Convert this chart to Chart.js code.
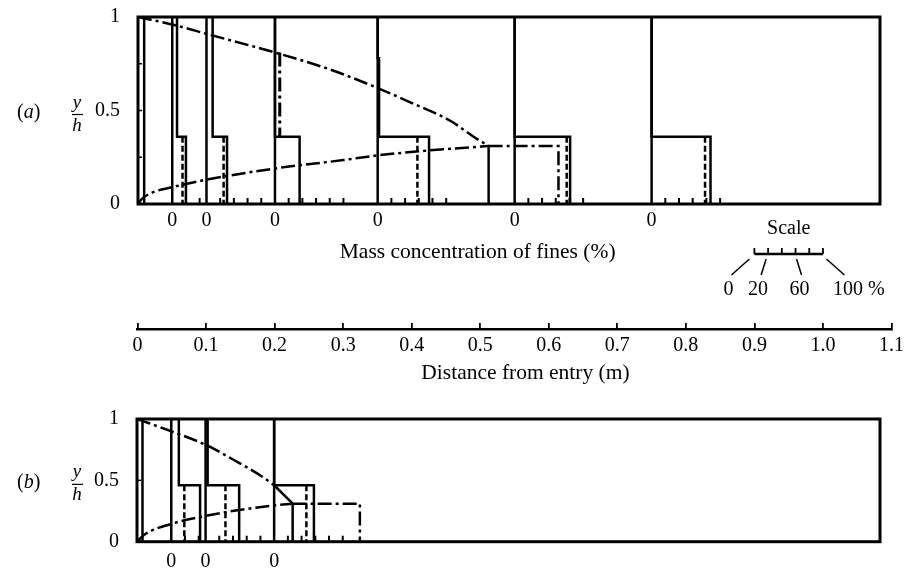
<!DOCTYPE html>
<html>
<head>
<meta charset="utf-8">
<script src="https://cdn.jsdelivr.net/npm/chart.js@4.4.0/dist/chart.umd.min.js"></script>
<style>
    html, body { margin: 0; padding: 0; background: #fff; }
    body { width: 904px; height: 571px; position: relative; overflow: hidden; }
    canvas { position: absolute; left: 0; }
    #chartA { top: 0; }
    #axisD { top: 215px; }
    #chartB { top: 390px; }
</style>
</head>
<body>
<canvas id="chartA" width="904" height="270"></canvas>
<canvas id="axisD" width="904" height="175"></canvas>
<canvas id="chartB" width="904" height="181"></canvas>
<script>
const FONT = '"Liberation Serif", "Times New Roman", serif';

// Distance axis (m)
const distTicks = [0, 0.1, 0.2, 0.3, 0.4, 0.5, 0.6, 0.7, 0.8, 0.9, 1.0, 1.1];
const distMax = 1.1;
const panelMax = 1.0835;        // right edge of the two panels
const pctToM = 0.1 / 100;       // scale bar: 100 % spans 0.1 m

// y/h ticks
const yTicks = [0, 0.5, 1];

// Scale bar
const scaleStart = 0.9;
const scaleTicks = [0, 20, 40, 60, 80, 100];
const scaleLabels = [0, 20, 60, 100];

// Panel (a)
const stationsA = [0, 0.05, 0.1, 0.2, 0.35, 0.55, 0.75];
const upperA = [9, 7, 9, 0, 2, 0, 0];           // measured, upper layer (%)
const upperTopA = [1, 1, 1, 1, 0.78, 1, 1];
const lowerA = [9, 20, 30, 36, 75, 81, 86];     // measured, lower layer (%)
const dashedA = [null, 15, 25, null, 58, 76, 78];
const dashUpperA = [null, null, null, 7, null, null, null];
const dashUpperTopA = [null, null, null, 0.81, null, null, null];
const layerA = 0.36;
const topCurveAx = [0, 0.05, 0.1, 0.2, 0.28, 0.35, 0.4, 0.456, 0.49, 0.512];
const topCurveAy = [1, 0.96, 0.91, 0.81, 0.72, 0.62, 0.54, 0.445, 0.36, 0.31];
const lowCurveAx = [0, 0.005, 0.02, 0.05, 0.1, 0.2, 0.3, 0.35, 0.42, 0.456, 0.512];
const lowCurveAy = [0, 0.025, 0.06, 0.09, 0.13, 0.19, 0.235, 0.26, 0.285, 0.295, 0.31];
const tailAx = [0.512, 0.614];
const tailAy = 0.31;

// Panel (b)
const stationsB = [0, 0.05, 0.1, 0.2];
const upperB = [8, 11, 3, 0];
const upperTopB = [1, 1, 1, 1];
const lowerB = [8, 42, 49, 58];
const dashedB = [null, 19, 29, 47];
const dashUpperB = [null, null, null, null];
const dashUpperTopB = [null, null, null, null];
const layerB = 0.46;
const topCurveBx = [0, 0.05, 0.1, 0.14, 0.18, 0.2];
const topCurveBy = [1, 0.9, 0.79, 0.67, 0.54, 0.46];
const linkBx = [0.2, 0.227];
const linkBy = [0.46, 0.31];
const lowCurveBx = [0, 0.01, 0.05, 0.1, 0.139, 0.2, 0.227];
const lowCurveBy = [0, 0.055, 0.145, 0.21, 0.25, 0.295, 0.31];
const tailBx = [0.227, 0.325];
const tailBy = 0.31;

const DASH = [6, 3];
const DASHDOT = [14, 4, 3, 4];

function line(points, opts) {
    return Object.assign({
        data: points, showLine: true, pointRadius: 0, borderColor: '#000',
        borderWidth: 2.5, tension: 0, fill: false
    }, opts || {});
}

function xy(xs, ys) {
    return xs.map((x, k) => ({ x: x, y: ys[k] }));
}

function panelDatasets(p) {
    const ds = [];
    p.stations.forEach((s, i) => {
        const u = s + p.upper[i] * pctToM;
        const l = s + p.lower[i] * pctToM;
        if (s > 0) ds.push(line([{ x: s, y: 0 }, { x: s, y: 1 }]));
        const path = [];
        if (p.upperTop[i] < 1) {
            path.push({ x: s, y: 1 }, { x: s, y: p.upperTop[i] }, { x: u, y: p.upperTop[i] });
        } else {
            path.push({ x: u, y: 1 });
        }
        path.push({ x: u, y: p.layer }, { x: l, y: p.layer }, { x: l, y: 0 });
        ds.push(line(path));
        if (p.dashed[i] != null) {
            const d = s + p.dashed[i] * pctToM;
            ds.push(line([{ x: d, y: p.layer }, { x: d, y: 0 }], { borderDash: DASH }));
        }
        if (p.dashUpper[i] != null) {
            const d = s + p.dashUpper[i] * pctToM;
            ds.push(line([{ x: d, y: p.dashUpperTop[i] }, { x: d, y: p.layer }], { borderDash: DASHDOT, borderWidth: 3 }));
        }
    });
    ds.push(line(xy(p.topX, p.topY), { borderDash: DASHDOT, cubicInterpolationMode: 'monotone' }));
    ds.push(line(xy(p.lowX, p.lowY), { borderDash: DASHDOT, cubicInterpolationMode: 'monotone' }));
    if (p.linkX) ds.push(line(xy(p.linkX, p.linkY)));
    ds.push(line([{ x: p.tailX[0], y: 0 }, { x: p.tailX[0], y: p.tailY }]));
    ds.push(line([{ x: p.tailX[0], y: p.tailY }, { x: p.tailX[1], y: p.tailY }, { x: p.tailX[1], y: 0 }],
        { borderDash: DASHDOT }));
    return ds;
}

function panelDecor(p) {
    return {
        id: 'decor',
        afterDatasetsDraw(chart) {
            const { ctx, chartArea: a, scales: { x, y } } = chart;
            ctx.save();
            ctx.strokeStyle = '#000';
            ctx.fillStyle = '#000';
            ctx.lineWidth = 3;
            ctx.strokeRect(a.left, a.top, a.right - a.left, a.bottom - a.top);

            // small marks on the left edge
            ctx.lineWidth = 1.5;
            p.yMarks.forEach(v => {
                const py = y.getPixelForValue(v);
                ctx.beginPath(); ctx.moveTo(a.left, py); ctx.lineTo(a.left + 4, py); ctx.stroke();
            });

            // 20 % ticks along the floor of each profile, and its zero
            ctx.font = '20px ' + FONT;
            ctx.textAlign = 'center';
            ctx.textBaseline = 'middle';
            ctx.lineWidth = 2;
            p.stations.forEach((s, i) => {
                if (s === 0) return;
                const next = i < p.stations.length - 1 ? p.stations[i + 1] : Infinity;
                for (let k = 1; k <= 5; k++) {
                    const v = s + k * 20 * pctToM;
                    if (v > next - 0.005) break;
                    const px = x.getPixelForValue(v);
                    ctx.beginPath(); ctx.moveTo(px, a.bottom); ctx.lineTo(px, a.bottom - 6); ctx.stroke();
                }
                ctx.fillText('0', x.getPixelForValue(s), a.bottom + p.zeroDy);
            });

            // panel tag and y/h
            const mid = y.getPixelForValue(0.5);
            ctx.textAlign = 'left';
            let tx = 17;
            ctx.font = '20px ' + FONT;
            ctx.fillText('(', tx, mid + 2); tx += ctx.measureText('(').width;
            ctx.font = 'italic 20px ' + FONT;
            ctx.fillText(p.tag, tx, mid + 2); tx += ctx.measureText(p.tag).width;
            ctx.font = '20px ' + FONT;
            ctx.fillText(')', tx, mid + 2);

            ctx.textAlign = 'center';
            ctx.font = 'italic 19px ' + FONT;
            ctx.fillText('y', 77, mid - 8);
            ctx.fillText('h', 77, mid + 15);
            ctx.lineWidth = 1.2;
            ctx.beginPath(); ctx.moveTo(72, mid + 4); ctx.lineTo(83, mid + 4); ctx.stroke();

            if (p.xTitle) {
                ctx.font = '21.5px ' + FONT;
                ctx.fillText(p.xTitle, x.getPixelForValue(p.xTitleAt), p.xTitleY);
            }
            ctx.restore();
        }
    };
}

function panelChart(id, p, pad) {
    return new Chart(document.getElementById(id), {
        type: 'scatter',
        data: { datasets: panelDatasets(p) },
        options: {
            responsive: false,
            animation: false,
            layout: { padding: { left: pad.left, right: pad.right, top: pad.top, bottom: pad.bottom } },
            plugins: { legend: { display: false }, tooltip: { enabled: false } },
            scales: {
                x: { type: 'linear', min: 0, max: panelMax, display: false },
                y: {
                    type: 'linear', min: 0, max: 1,
                    afterBuildTicks: s => { s.ticks = yTicks.map(v => ({ value: v })); },
                    ticks: {
                        color: '#000', padding: 10, font: { family: FONT, size: 20 },
                        callback: v => String(v)
                    },
                    grid: { display: false },
                    border: { display: false },
                    afterFit: s => { s.width = pad.axisWidth; s.paddingTop = 0; s.paddingBottom = 0; }
                }
            }
        },
        plugins: [panelDecor(p)]
    });
}

panelChart('chartA', {
    tag: 'a', stations: stationsA, upper: upperA, upperTop: upperTopA, lower: lowerA,
    dashed: dashedA, dashUpper: dashUpperA, dashUpperTop: dashUpperTopA, layer: layerA,
    topX: topCurveAx, topY: topCurveAy, lowX: lowCurveAx, lowY: lowCurveAy,
    tailX: tailAx, tailY: tailAy, yMarks: [0.25, 0.5, 0.75], zeroDy: 17,
    xTitle: 'Mass concentration of fines (%)', xTitleAt: 0.496, xTitleY: 252
}, { left: 0, right: 24, top: 17, bottom: 66, axisWidth: 138 });

panelChart('chartB', {
    tag: 'b', stations: stationsB, upper: upperB, upperTop: upperTopB, lower: lowerB,
    dashed: dashedB, dashUpper: dashUpperB, dashUpperTop: dashUpperTopB, layer: layerB,
    topX: topCurveBx, topY: topCurveBy, lowX: lowCurveBx, lowY: lowCurveBy,
    linkX: linkBx, linkY: linkBy, tailX: tailBx, tailY: tailBy, yMarks: [0.5], zeroDy: 20
}, { left: 0, right: 24, top: 29, bottom: 29.3, axisWidth: 137 });

// Distance axis with the concentration scale bar
const scaleDecor = {
    id: 'scaleDecor',
    afterDraw(chart) {
        const { ctx, scales: { x } } = chart;
        const top = 215;
        const px = pct => x.getPixelForValue(scaleStart + pct * pctToM);
        ctx.save();
        ctx.strokeStyle = '#000';
        ctx.fillStyle = '#000';
        ctx.font = '20px ' + FONT;
        ctx.textAlign = 'center';
        ctx.textBaseline = 'middle';
        ctx.fillText('Scale', px(50), 229 - top);

        const barY = 254 - top;
        ctx.lineWidth = 2.5;
        ctx.beginPath(); ctx.moveTo(px(0), barY); ctx.lineTo(px(100), barY); ctx.stroke();
        ctx.lineWidth = 1.8;
        scaleTicks.forEach(v => {
            ctx.beginPath(); ctx.moveTo(px(v), barY); ctx.lineTo(px(v), barY - 6); ctx.stroke();
        });

        // leader lines to the labels
        const lead = { 0: [-5, -23], 20: [-2, -7], 60: [1, 6], 100: [3.5, 21.5] };
        const labX = { 0: -26, 20: -10, 60: 4, 100: 10 };
        ctx.lineWidth = 1.5;
        scaleLabels.forEach(v => {
            const p0 = px(v);
            ctx.beginPath();
            ctx.moveTo(p0 + lead[v][0], barY + 5);
            ctx.lineTo(p0 + lead[v][1], barY + 21);
            ctx.stroke();
            ctx.textAlign = v === 100 ? 'left' : 'center';
            ctx.fillText(v === 100 ? '100 %' : String(v), p0 + labX[v], 290 - top);
        });

        ctx.textAlign = 'center';
        ctx.font = '21.5px ' + FONT;
        ctx.fillText('Distance from entry (m)', x.getPixelForValue(0.566), 373 - top);
        ctx.restore();
    }
};

new Chart(document.getElementById('axisD'), {
    type: 'scatter',
    data: { datasets: [] },
    options: {
        responsive: false,
        animation: false,
        layout: { padding: { left: 137.5, right: 12.5, top: 108, bottom: 0 } },
        plugins: { legend: { display: false }, tooltip: { enabled: false } },
        scales: {
            x: {
                type: 'linear', min: 0, max: distMax,
                afterBuildTicks: s => { s.ticks = distTicks.map(v => ({ value: v })); },
                ticks: {
                    autoSkip: false, maxRotation: 0, color: '#000', padding: 5,
                    font: { family: FONT, size: 20 },
                    callback: v => (v === 0 ? '0' : v.toFixed(1))
                },
                grid: { color: '#000', lineWidth: 1.8, drawTicks: false, drawOnChartArea: true },
                border: { display: true, color: '#000', width: 2.5 },
                afterFit: s => { s.height = 61; s.paddingLeft = 0; s.paddingRight = 0; }
            },
            y: { display: false, min: 0, max: 1 }
        }
    },
    plugins: [scaleDecor]
});
</script>
</body>
</html>
